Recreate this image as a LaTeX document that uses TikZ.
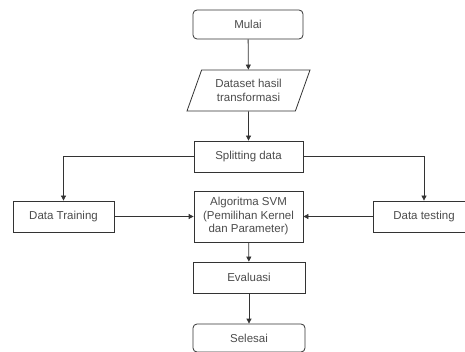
\documentclass[tikz,border=0pt]{standalone}
\usepackage{fontspec}
\setmainfont{Liberation Sans}
\usetikzlibrary{shapes.geometric,arrows.meta}

\begin{document}
\begin{tikzpicture}[x=1pt, y=-1pt, line width=0.8pt, draw=black!80,
    font=\fontsize{11.5}{13.5}\selectfont,
    kotak/.style={draw=black!80, fill=white, align=center, text=black!70, inner sep=1pt},
    arah/.style={-{Triangle[length=5pt,width=5pt]}, draw=black!80}]
  \useasboundingbox (0,0) rectangle (465,352);
  \node[kotak, rounded corners=4, minimum width=110, minimum height=29] (mulai) at (248,24.5) {Mulai};
  \node[kotak, trapezium, trapezium left angle=58.6, trapezium right angle=121.4,
        trapezium stretches body, minimum width=123, minimum height=41] (dataset) at (248.5,90.5)
        {Dataset hasil\\transformasi};
  \node[kotak, minimum width=109, minimum height=31] (split) at (248.5,156.5) {Splitting data};
  \node[kotak, minimum width=101, minimum height=31] (train) at (63.5,216.5) {Data Training};
  \node[kotak, minimum width=102, minimum height=31] (test) at (424,216.5) {Data testing};
  \node[kotak, minimum width=109, minimum height=51] (svm) at (248.5,216.5)
        {Algoritma SVM\\(Pemilihan Kernel\\dan Parameter)};
  \node[kotak, minimum width=112, minimum height=31] (eval) at (249,277.5) {Evaluasi};
  \node[kotak, rounded corners=4, minimum width=112, minimum height=28] (selesai) at (249,338) {Selesai};
  % alur
  \draw[arah] (mulai) -- (dataset);
  \draw[arah] (dataset) -- (split);
  \draw[arah] (split) -| (train);
  \draw[arah] (split) -| (test);
  \draw[arah] (train) -- (svm);
  \draw[arah] (test) -- (svm);
  \draw[arah] (svm) -- (eval);
  \draw[arah] (eval) -- (selesai);
\end{tikzpicture}
\end{document}
